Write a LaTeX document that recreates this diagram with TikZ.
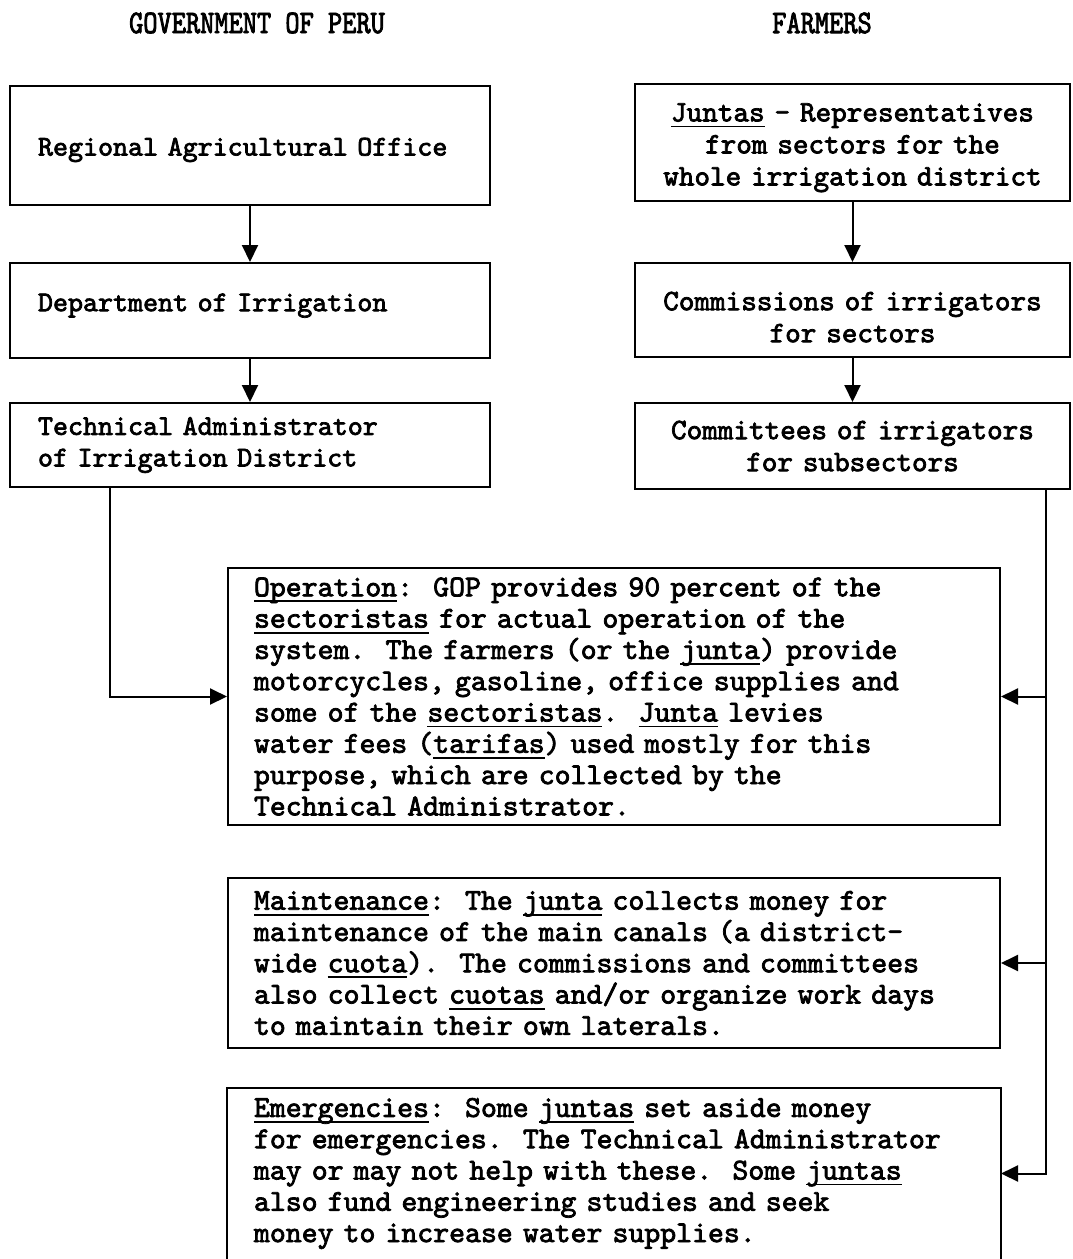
\documentclass[tikz,border=0pt]{standalone}
\usepackage{fontspec}
\usetikzlibrary{arrows.meta}
\newfontfamily\twfont[FakeBold=2.5]{lmmono10-regular.otf}
\newfontfamily\titlefont[FakeBold=2.5,FakeStretch=0.82]{lmmono10-regular.otf}
\newsavebox\ulbox
\newcommand\uln[1]{\leavevmode\sbox\ulbox{#1}\rlap{\rule[-6pt]{\wd\ulbox}{1.8pt}}\usebox\ulbox}
\newcommand\tallstrut[1]{\rule{0pt}{#1}}
\newcommand\deepstrut[1]{\rule[-#1]{0pt}{0pt}}
\begin{document}
\begin{tikzpicture}[x=1pt,y=-1pt,
  line/.style={line width=2pt},
  arr/.style={line width=2pt,-{Triangle[length=17pt,width=16pt]}},
  box/.style={draw,line width=2pt,inner ysep=0pt},
  titletext/.style={font=\titlefont\fontsize{33}{36}\selectfont},
  lbox/.style={box,align=left,text width=424pt,inner xsep=28pt,
    font=\twfont\fontsize{28.6}{31.5}\selectfont\frenchspacing},
  rbox/.style={box,align=center,text width=415pt,inner xsep=10pt,
    font=\twfont\fontsize{29.7}{32}\selectfont\frenchspacing},
  wbox/.style={box,align=left,text width=720pt,inner xsep=26pt,
    font=\twfont\fontsize{30.3}{31.3}\selectfont\frenchspacing}]
\useasboundingbox[fill=white] (0,0) rectangle (1072,1259);

% titles
\node[titletext] (tg) at (257,23) {GOVERNMENT OF PERU};
\node[titletext] (tf) at (822,23) {FARMERS};

% government column
\node[lbox,minimum height=119pt] (l1) at (250,145.5) {\tallstrut{26.6pt}Regional Agricultural Office};
\node[lbox,minimum height=95pt] (l2) at (250,310.5) {Department of Irrigation\deepstrut{16.3pt}};
\node[lbox,minimum height=84pt] (l3) at (250,445) {Technical Administrator\\of Irrigation District};

% farmers column
\node[rbox,minimum height=117pt] (r1) at (852.5,142.5)
  {\tallstrut{28.6pt}\uln{Juntas} - Representatives\\from sectors for the\\whole irrigation district};
\node[rbox,minimum height=94pt] (r2) at (852.5,310) {\tallstrut{32.6pt}Commissions of irrigators\\for sectors};
\node[rbox,minimum height=86pt] (r3) at (852.5,446) {Committees of irrigators\\for subsectors};

% activity boxes
\node[wbox,minimum height=257pt] (op) at (614,696.5)
  {\uln{Operation}:\ \ GOP provides 90 percent of the\\
   \uln{sectoristas} for actual operation of the\\
   system.\ \ The farmers (or the \uln{junta}) provide\\
   motorcycles, gasoline, office supplies and\\
   some of the \uln{sectoristas}.\ \ \uln{Junta} levies\\
   water fees (\uln{tarifas}) used mostly for this\\
   purpose, which are collected by the\\
   Technical Administrator.};
\node[wbox,minimum height=170pt] (mt) at (614,963)
  {\uln{Maintenance}:\ \ The \uln{junta} collects money for\\
   maintenance of the main canals (a district-\\
   wide \uln{cuota}).\ \ The commissions and committees\\
   also collect \uln{cuotas} and/or organize work days\\
   to maintain their own laterals.};
\node[wbox,draw=none,minimum height=169pt] (em) at (614,1173.5)
  {\uln{Emergencies}:\ \ Some \uln{juntas} set aside money\\
   for emergencies.\ \ The Technical Administrator\\
   may or may not help with these.\ \ Some \uln{juntas}\\
   also fund engineering studies and seek\\
   money to increase water supplies.};
\draw[line] ([yshift=-40pt]em.south west) -- (em.north west) -- (em.north east) -- ([yshift=-40pt]em.south east);

% connectors
\coordinate (lc) at (110,0);
\coordinate (rc) at (1046,0);
\draw[arr] (l1) -- (l2);
\draw[arr] (l2) -- (l3);
\draw[arr] (r1) -- (r2);
\draw[arr] (r2) -- (r3);
\draw[arr] (l3.south -| lc) |- (op.west);
\draw[arr] (r3.south -| rc) |- (em.east);
\draw[arr] (op.east -| rc) -- (op.east);
\draw[arr] (mt.east -| rc) -- (mt.east);
\end{tikzpicture}
\end{document}
